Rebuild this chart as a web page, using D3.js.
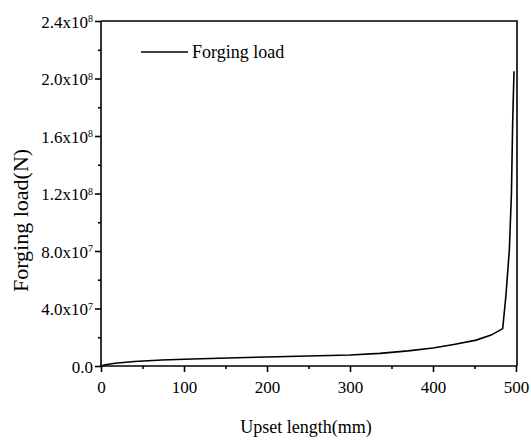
<!DOCTYPE html>
<html><head><meta charset="utf-8">
<script src="https://cdn.jsdelivr.net/npm/d3@7"></script>
<style>body{margin:0;background:#fff}svg{display:block}svg text{font-family:"Liberation Serif","DejaVu Serif",serif !important;fill:#000}</style>
</head><body><svg id="c" width="531" height="441"></svg>
<script>
const upsetLength = [0, 5, 17, 40, 73, 110, 153, 200, 250, 300, 336, 370, 400, 425, 452, 470, 484, 488, 492, 494.5, 496, 497.6];
const forgingLoad = [0, 0.9e6, 1.9e6, 3.1e6, 4.2e6, 4.9e6, 5.6e6, 6.3e6, 7.0e6, 7.7e6, 8.8e6, 1.05e7, 1.25e7, 1.5e7, 1.8e7, 2.15e7, 2.6e7, 5.0e7, 8.1e7, 1.2e8, 1.7e8, 2.05e8];
const xTicks = [0, 100, 200, 300, 400, 500];
const xMinor = [50, 150, 250, 350, 450];
const yTicks = [0, 4e7, 8e7, 1.2e8, 1.6e8, 2.0e8, 2.4e8];
const yMinor = [2e7, 6e7, 1.0e8, 1.4e8, 1.8e8, 2.2e8];
const yMant = ["0.0", "4.0x10", "8.0x10", "1.2x10", "1.6x10", "2.0x10", "2.4x10"];
const yExp = ["", "7", "7", "8", "8", "8", "8"];

const FONT = '"Liberation Serif", serif';
const svg = d3.select("#c");
const L = 101, R = 517, T = 21, B = 366;
const x = d3.scaleLinear().domain([0, 500]).range([L, 516]);
const y = d3.scaleLinear().domain([0, 2.4e8]).range([B, T]);

// frame
svg.append("path").attr("d", `M${L},${T}H${R}V${B}`).attr("fill", "none").attr("stroke", "#000").attr("stroke-width", 1.6);

const gx = svg.append("g").attr("transform", `translate(0,${B})`)
  .call(d3.axisBottom(x).tickValues(xTicks).tickSize(6).tickPadding(9).tickFormat(d3.format("d")));
gx.attr("font-family", FONT).attr("font-size", 17);
gx.select(".domain").attr("d", `M${L},0H${R}`);
gx.selectAll("text").style("font-family", FONT).style("font-size", "17px");
svg.append("g").attr("transform", `translate(0,${B})`)
  .call(d3.axisBottom(x).tickValues(xMinor).tickSize(3).tickFormat(""))
  .select(".domain").remove();

const gy = svg.append("g").attr("transform", `translate(${L},0)`)
  .call(d3.axisLeft(y).tickValues(yTicks).tickSize(6).tickPadding(2).tickFormat(""));
gy.attr("font-family", FONT);
gy.select(".domain").attr("d", `M0,${B}V${T}`);
gy.selectAll(".tick").each(function(d, i) {
  const t = d3.select(this).append("text").attr("x", -8).attr("dy", "0.36em")
    .attr("text-anchor", "end").style("font-family", FONT).style("font-size", "17px");
  t.append("tspan").text(yMant[i]);
  if (yExp[i]) t.append("tspan").attr("dy", "-0.55em").style("font-size", "10px").text(yExp[i]);
});
svg.append("g").attr("transform", `translate(${L},0)`)
  .call(d3.axisLeft(y).tickValues(yMinor).tickSize(3).tickFormat(""))
  .select(".domain").remove();

svg.selectAll(".domain, .tick line").attr("stroke", "#000").attr("stroke-width", 1.6);

// line
const data = upsetLength.map((u, i) => [u, forgingLoad[i]]);
svg.append("path").datum(data)
  .attr("d", d3.line().x(d => x(d[0])).y(d => y(d[1])))
  .attr("fill", "none").attr("stroke", "#000").attr("stroke-width", 1.6);

// legend
svg.append("line").attr("x1", 141).attr("x2", 188).attr("y1", 52).attr("y2", 52).attr("stroke", "#000").attr("stroke-width", 1.3);
svg.append("text").attr("x", 192).attr("y", 58).style("font-family", FONT).style("font-size", "18px").text("Forging load");

// axis titles
svg.append("text").attr("x", (L + R) / 2 - 3).attr("y", 433).attr("text-anchor", "middle").style("font-family", FONT).style("font-size", "18px").text("Upset length(mm)");
svg.append("text").attr("transform", `translate(28,${(T + B) / 2 + 27}) rotate(-90)`).attr("text-anchor", "middle").style("font-family", FONT).style("font-size", "22px").text("Forging load(N)");
</script></body></html>
